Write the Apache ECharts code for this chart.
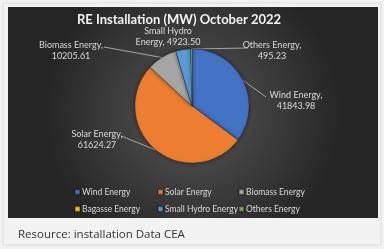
<!DOCTYPE html>
<html><head><meta charset="utf-8">
<script src="https://cdn.jsdelivr.net/npm/echarts@6/dist/echarts.min.js"></script>
<style>html,body{margin:0;padding:0;background:#fff;}#c{width:384px;height:249px;}</style>
</head><body><div id="c"></div>
<script>
const categories = ['Wind Energy','Solar Energy','Biomass Energy','Bagasse Energy','Small Hydro Energy','Others Energy'];
const values = [41843.98, 61624.27, 10205.61, 0, 4923.50, 495.23];
const colors = ['#4472C4','#ED7D31','#A5A5A5','#FFC000','#5B9BD5','#70AD47'];
const titleText = 'RE Installation (MW) October 2022';
const caption = 'Resource: installation Data CEA';

// label placement (Excel-like manual layout): label centre and connector end
const labelPos = [
  {x:296, y:100.5, end:[266,97]},
  {x:97,  y:139.5, end:[121,136]},
  {x:71,  y:50.5,  end:[104,47]},
  null,
  {x:168, y:36.5,  end:null},
  {x:272, y:50.5,  end:[248,48]}
];
// legend laid out in 3 columns x 2 rows
const legendColumnsLeft = [74, 157, 238];

const chart = echarts.init(document.getElementById('c'), null, {renderer:'canvas'});
const data = categories.map((n,i)=>{
  const d = {name:n, value:values[i], itemStyle:{color:colors[i]}};
  if(!values[i]){ d.label={show:false}; d.labelLine={show:false}; }
  return d;
});
const legends = legendColumnsLeft.map((l,c)=>({
  left:l, top:186, padding:0, orient:'vertical', itemWidth:5, itemHeight:5, itemGap:5, icon:'rect',
  textStyle:{color:'#d9d9d9', fontFamily:'Lato', fontSize:8.5, lineHeight:12, padding:[0,0,0,-3]},
  data:[categories[c], categories[c+3]]
}));
chart.setOption({
  animation:false,
  backgroundColor:'#f2f2f2',
  graphic:[
    {type:'rect', shape:{x:3,y:3,width:378,height:242}, style:{fill:'#f2f2f2', stroke:'#dcdcdc', lineWidth:1}, z:-10},
    {type:'rect', shape:{x:8,y:7,width:370,height:211}, style:{fill:new echarts.graphic.RadialGradient(0.5,0.5,0.7,[{offset:0,color:'#575757'},{offset:1,color:'#262626'}])}, z:-9}
  ],
  title:[
    {text:titleText, left:174, top:8, textAlign:'center', textStyle:{color:'#f2f2f2', fontFamily:'Lato', fontWeight:'bold', fontSize:13}},
    {text:caption, left:13, top:224, textStyle:{color:'#333', fontFamily:'Open Sans', fontWeight:'normal', fontSize:11.5}}
  ],
  legend:legends,
  series:[{
    type:'pie', center:[192,106], radius:57, startAngle:90, clockwise:true,
    data:data,
    itemStyle:{borderColor:'rgba(0,0,0,0.3)', borderWidth:0.6, shadowBlur:4, shadowColor:'rgba(0,0,0,0.5)'},
    label:{color:'#d9d9d9', fontFamily:'Lato', fontSize:9, lineHeight:11, align:'center',
      formatter:p=>{
        const v = p.value.toFixed(2);
        return p.name==='Small Hydro Energy' ? 'Small Hydro\nEnergy, '+v : p.name+',\n'+v;
      }},
    labelLine:{show:true, lineStyle:{color:'#a6a6a6', width:1}},
    labelLayout:function(params){
      const p = labelPos[params.dataIndex];
      if(!p) return {};
      const r = {x:p.x, y:p.y, align:'center', verticalAlign:'middle'};
      if(p.end && params.labelLinePoints){
        const s = params.labelLinePoints[0];
        r.labelLinePoints = [s, p.end, p.end];
      } else {
        r.labelLinePoints = [[0,0],[0,0],[0,0]];
      }
      return r;
    }
  }]
});
</script></body></html>
